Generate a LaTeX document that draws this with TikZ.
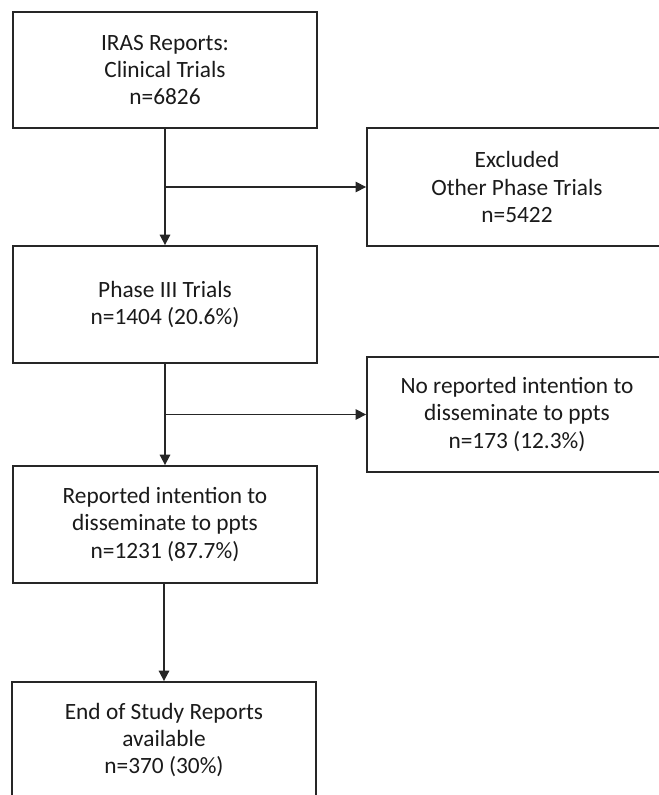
\documentclass[tikz,border=0pt]{standalone}
\usepackage{fontspec}
\setmainfont{Carlito}
\usetikzlibrary{arrows.meta,positioning}
\definecolor{fcink}{HTML}{1A1A1A}
\definecolor{fcline}{HTML}{262626}
\tikzset{
  stage/.style={rectangle,draw=fcline,fill=white,line width=1.3pt,minimum width=7.6cm,minimum height=2.9cm,align=center,text=fcink,font=\fontsize{16.6}{19.4}\selectfont},
  drop/.style={stage,minimum width=7.5cm},
  flow/.style={-{Triangle[length=2.6mm,width=2.6mm]},draw=fcline,line width=1.3pt},
  side/.style={-{Triangle[length=2.6mm,width=2.6mm]},draw=fcline,line width=1pt},
}

\begin{document}
\begin{tikzpicture}
  \useasboundingbox (0,0) rectangle (16.475,19.875);
  \clip (0,0) rectangle (16.475,19.875);
  \node[stage] (iras) at (4.125,18.125) {IRAS Reports:\\Clinical Trials\\n=6826};
  \node[drop,minimum height=2.95cm] (excl) at (12.925,15.2) {Excluded\\Other Phase Trials\\n=5422};
  \node[stage,minimum height=2.925cm] (ph3) at (4.125,12.2625) {Phase III Trials\\n=1404 (20.6\%)};
  \node[drop,minimum height=2.875cm] (nrep) at (12.925,9.5125) {No reported intention to\\disseminate to ppts\\n=173 (12.3\%)};
  \node[stage,minimum height=2.925cm] (rep) at (4.125,6.7625) {Reported intention to\\disseminate to ppts\\n=1231 (87.7\%)};
  \node[stage] (eos) at (4.1,1.375) {End of Study Reports\\available\\n=370 (30\%)};
  \draw[flow] (iras.south) -- (ph3.north);
  \draw[side] (iras.south |- excl.west) -- (excl.west);
  \draw[flow] (ph3.south) -- (rep.north);
  \draw[side] (ph3.south |- nrep.west) -- (nrep.west);
  \draw[flow] (rep.south -| eos.north) -- (eos.north);
\end{tikzpicture}
\end{document}
